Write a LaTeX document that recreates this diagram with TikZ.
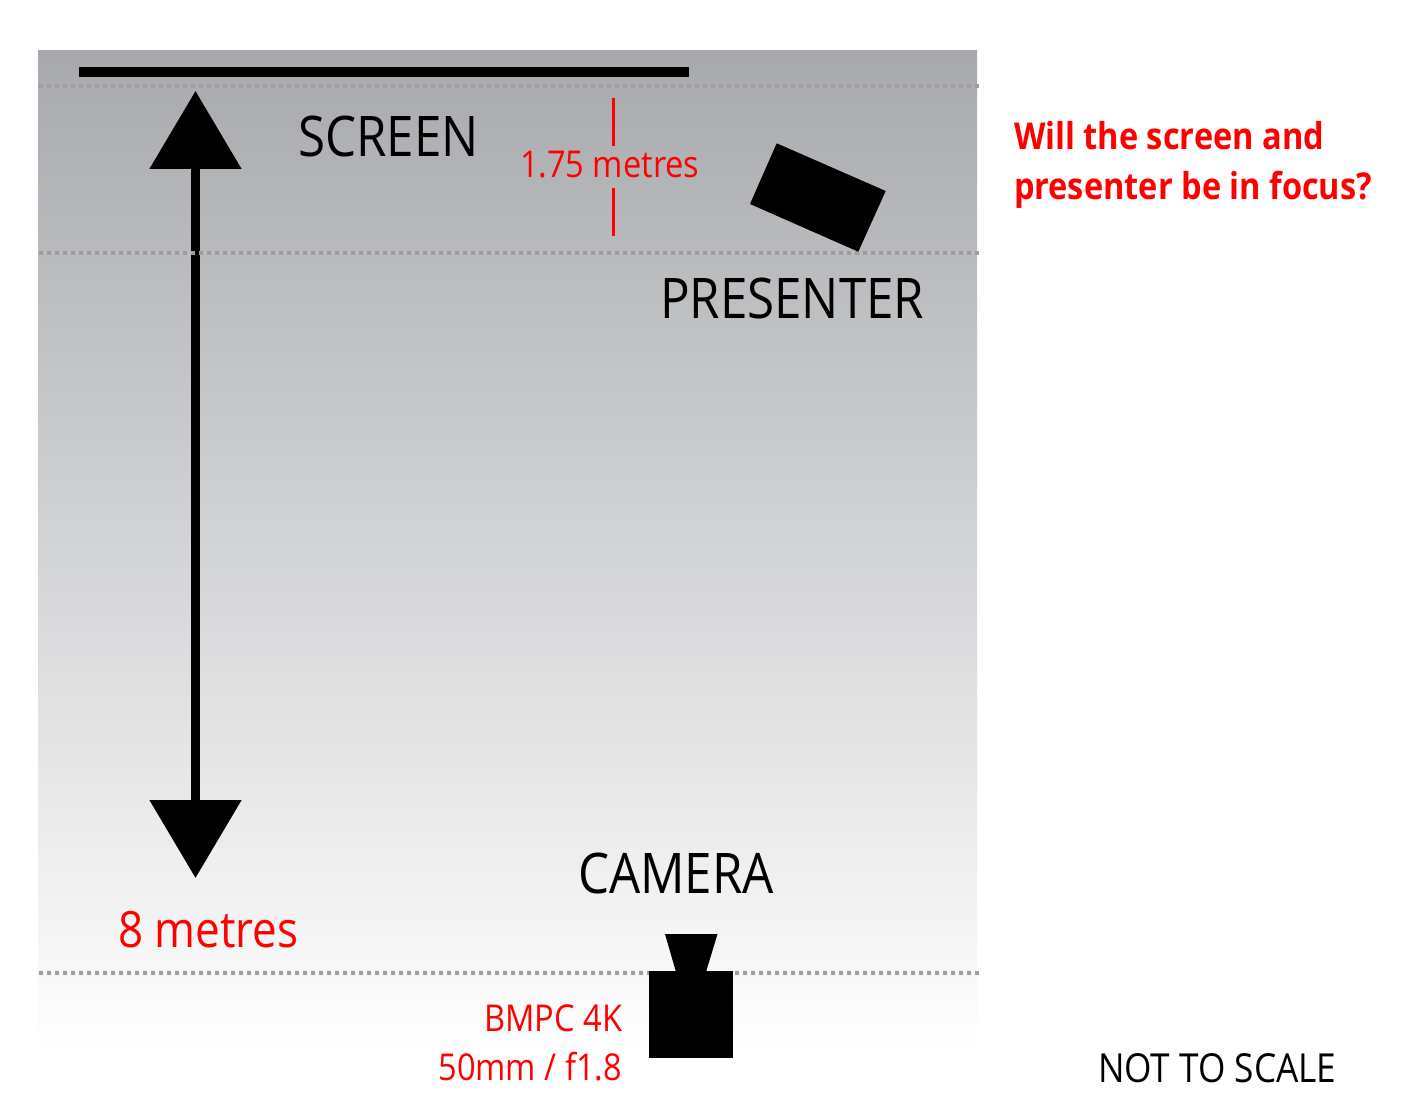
\documentclass[tikz,border=0pt]{standalone}
\usepackage{fontspec}
\usetikzlibrary{arrows.meta}
\setmainfont{Open Sans}
\newfontfamily\labelfont[FakeStretch=0.88]{Open Sans}
\newfontfamily\boldlabelfont[FakeStretch=0.88,BoldFont={Open Sans Bold}]{Open Sans}
\definecolor{roomtop}{RGB}{167,169,172}
\definecolor{guide}{RGB}{158,158,160}
\tikzset{
  x=1pt,y=-1pt,
  txt/.style={inner sep=0pt,outer sep=0pt,anchor=base west,font=\labelfont\fontsize{#1}{#1}\selectfont},
  rtxt/.style={inner sep=0pt,outer sep=0pt,anchor=base east,text=red,font=\labelfont\fontsize{#1}{#1}\selectfont},
  guideline/.style={guide,line width=4pt,dash pattern=on 4pt off 4pt},
  solidblack/.style={fill=black,draw=none},
  measure/.style={red,line width=2.8pt},
}
\begin{document}
\begin{tikzpicture}
\useasboundingbox (0,0) rectangle (1409,1115);
\fill[white] (0,0) rectangle (1409,1115);
% room floor, darkest at the screen wall
\shade[top color=roomtop,bottom color=white] (38,51) rectangle (977,1052);

% screen
\fill[solidblack] (78.5,67) rectangle (689,77);

% distance arrow between screen and camera
\coordinate (arrowtop) at (195.5,91);
\coordinate (arrowbottom) at (195.5,878);
\draw[line width=9pt,{Triangle[width=90pt,length=78pt]}-{Triangle[width=90pt,length=78pt]}] (arrowtop) -- (arrowbottom);

% focus planes
\draw[guideline] (39,86.5) -- (983,86.5);
\draw[guideline] (39,253.5) -- (983,253.5);
\draw[guideline] (39,973) -- (983,973);

% presenter
\fill[solidblack] (776.7,143.3) -- (885.7,191) -- (858.3,251.7) -- (750,204) -- cycle;

% camera body and lens
\fill[solidblack] (648.5,971) rectangle (733,1058);
\fill[solidblack] (665,934) -- (717.5,934) -- (706,972) -- (676,972) -- cycle;

% screen-to-presenter measure
\coordinate (tickA) at (613.5,98);
\coordinate (tickB) at (613.5,146);
\coordinate (tickC) at (613.5,188);
\coordinate (tickD) at (613.5,236);
\draw[measure] (tickA) -- (tickB);
\draw[measure] (tickC) -- (tickD);

% labels
\node[txt=56] (screenlabel) at (298,157) {SCREEN};
\node[txt=56] (presenterlabel) at (660,319) {PRESENTER};
\node[txt=56] (cameralabel) at (578,893) {CAMERA};
\node[txt=50,text=red] (distlabel) at (118,947) {8 metres};
\node[txt=37,text=red] (shortlabel) at (520,178) {1.75 metres};
\node[rtxt=37] (bodylabel) at (622,1031) {BMPC 4K};
\node[rtxt=37] (lenslabel) at (622,1080) {50mm / f1.8};
\node[txt=40] (scalelabel) at (1098,1082) {NOT TO SCALE};
\node[txt=37,text=red,font=\boldlabelfont\bfseries\fontsize{37}{37}\selectfont] (questionA) at (1014,150) {Will the screen and};
\node[txt=37,text=red,font=\boldlabelfont\bfseries\fontsize{37}{37}\selectfont] (questionB) at (1014,200) {presenter be in focus?};
\end{tikzpicture}
\end{document}
